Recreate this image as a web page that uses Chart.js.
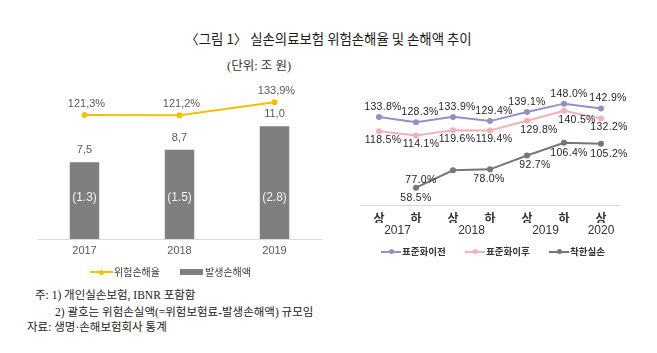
<!DOCTYPE html>
<html><head><meta charset="utf-8">
<script src="https://cdn.jsdelivr.net/npm/chart.js@4.4.0/dist/chart.umd.min.js"></script>
<style>
html,body{margin:0;padding:0;background:#fff;}
body{width:657px;height:353px;overflow:hidden;position:relative;font-family:'Noto Sans CJK KR',sans-serif;}
.abs{position:absolute;white-space:nowrap;line-height:16px;}
#title{left:0;width:657px;text-align:center;top:30px;font-size:13.4px;color:#1a1a1a;}
#unit{left:227px;top:58px;font-size:12.5px;color:#333;font-family:'Liberation Serif','Noto Sans CJK KR',serif;}
.note{font-size:11.5px;color:#222;font-family:'Liberation Serif','Noto Sans CJK KR',serif;}
#c1{position:absolute;left:0;top:80px;}
#c2{position:absolute;left:330px;top:70px;}
.leg{font-size:10px;color:#404040;}
.leg2{font-size:9.5px;color:#333;font-weight:bold;}
.lline{position:absolute;height:2px;}
.ldot{position:absolute;width:5px;height:5px;border-radius:50%;}
</style></head>
<body>
<div id="title" class="abs">〈그림 1〉 실손의료보험 위험손해율 및 손해액 추이</div>
<div id="unit" class="abs">(단위: 조 원)</div>
<canvas id="c1" width="330" height="182"></canvas>
<canvas id="c2" width="327" height="172"></canvas>

<!-- left legend -->
<div class="lline" style="left:90px;top:271px;width:23px;background:#F5C000"></div>
<div class="ldot" style="left:99px;top:269.5px;background:#F5C000"></div>
<div class="abs leg" style="left:114px;top:264px;">위험손해율</div>
<div style="position:absolute;left:180px;top:269px;width:23px;height:6px;background:#7F7F7F"></div>
<div class="abs leg" style="left:205px;top:264px;">발생손해액</div>

<!-- right legend -->
<div class="lline" style="left:381px;top:250.5px;width:20px;background:#8E92C8"></div>
<div class="ldot" style="left:388.5px;top:249px;background:#8E92C8"></div>
<div class="abs leg2" style="left:402px;top:243px;">표준화이전</div>
<div class="lline" style="left:465px;top:250.5px;width:20px;background:#F2B1B7"></div>
<div class="ldot" style="left:472.5px;top:249px;background:#F2B1B7"></div>
<div class="abs leg2" style="left:486px;top:243px;">표준화이후</div>
<div class="lline" style="left:549px;top:250.5px;width:20px;background:#767676"></div>
<div class="ldot" style="left:556.5px;top:249px;background:#767676"></div>
<div class="abs leg2" style="left:570px;top:243px;">착한실손</div>

<div class="abs note" style="left:35px;top:287px;">주: 1) 개인실손보험, IBNR 포함함</div>
<div class="abs note" style="left:55px;top:304px;">2) 괄호는 위험손실액(=위험보험료-발생손해액) 규모임</div>
<div class="abs note" style="left:27px;top:319px;">자료: 생명·손해보험회사 통계</div>

<script>
// ---- left chart data ----
const leftYears = ['2017', '2018', '2019'];
const riskLossRatio = [121.3, 121.2, 133.9];      // 위험손해율 (%)
const lossAmount = [7.5, 8.7, 11.0];               // 발생손해액 (조 원)
const riskLossAmount = [1.3, 1.5, 2.8];            // 위험손실액 (괄호)

// ---- right chart data ----
const halfLabels = ['상', '하', '상', '하', '상', '하', '상'];
const yearLabels = ['2017', '2018', '2019', '2020'];
const yearTickPos = [0.5, 2.5, 4.5, 6];
const beforeStd = [133.8, 128.3, 133.9, 129.4, 139.1, 148.0, 142.9];   // 표준화이전
const afterStd = [118.5, 114.1, 119.6, 119.4, 129.8, 140.5, 132.2];    // 표준화이후
const goodInsurance = [null, 58.5, 77.0, 78.0, 92.7, 106.4, 105.2];    // 착한실손

// label offsets (style only)
const beforeDx = [4, 4, 4, 4, 0, 5, 7];
const afterDx = [4, 5, 4, 4, 12, 13, 8];
const goodDx = [0, 0, -32, -1, 8, 5, 8];

const fmt = v => v.toFixed(1).replace('.', ',');

const leftLabels = {
  id: 'leftLabels',
  afterDatasetsDraw(chart) {
    const ctx = chart.ctx;
    const lineMeta = chart.getDatasetMeta(0), barMeta = chart.getDatasetMeta(1);
    ctx.save();
    ctx.textAlign = 'center'; ctx.textBaseline = 'middle';
    ctx.font = '11px "Liberation Sans"'; ctx.fillStyle = '#595959';
    lineMeta.data.forEach((p, i) => ctx.fillText(fmt(riskLossRatio[i]) + '%', p.x + 2, p.y - 11));
    barMeta.data.forEach((b, i) => ctx.fillText(fmt(lossAmount[i]), b.x, b.y - 12));
    ctx.font = '12px "Liberation Sans"'; ctx.fillStyle = '#F2F2F2';
    const yIn = chart.scales.yA.getPixelForValue(4);
    barMeta.data.forEach((b, i) => ctx.fillText('(' + riskLossAmount[i].toFixed(1) + ')', b.x, yIn));
    ctx.restore();
  }
};

new Chart(document.getElementById('c1'), {
  data: {
    labels: leftYears,
    datasets: [
      { type: 'line', label: '위험손해율', data: riskLossRatio, yAxisID: 'yR',
        borderColor: '#F5C000', backgroundColor: '#F5C000', borderWidth: 2,
        pointRadius: 3, pointBorderWidth: 0, pointBackgroundColor: '#F5C000', order: 0 },
      { type: 'bar', label: '발생손해액', data: lossAmount, yAxisID: 'yA',
        backgroundColor: '#7F7F7F', barPercentage: 0.31, categoryPercentage: 1, order: 1 }
    ]
  },
  options: {
    responsive: false, animation: false, devicePixelRatio: 1,
    layout: { padding: { left: 37, right: 8, top: 10, bottom: 0 } },
    plugins: { legend: { display: false }, tooltip: { enabled: false } },
    scales: {
      x: { offset: true,
        grid: { display: true, drawOnChartArea: false, drawTicks: false },
        border: { color: '#D9D9D9', width: 1 },
        ticks: { color: '#595959', font: { family: 'Liberation Sans', size: 11 }, padding: 5 },
        afterFit: s => { s.height = 23; } },
      yA: { display: false, min: 0, max: 14.54 },
      yR: { display: false, min: 0, max: 145.8 }
    }
  },
  plugins: [leftLabels]
});

const rightLabels = {
  id: 'rightLabels',
  afterDatasetsDraw(chart) {
    const ctx = chart.ctx;
    ctx.save();
    ctx.textAlign = 'center'; ctx.textBaseline = 'middle';
    ctx.font = '10.5px "Liberation Sans"'; ctx.fillStyle = '#262626';
    try { ctx.letterSpacing = '0.3px'; } catch (e) {}
    const sets = [[beforeStd, beforeDx, -10], [afterStd, afterDx, 9], [goodInsurance, goodDx, 10]];
    sets.forEach(([vals, dx, dy], di) => {
      chart.getDatasetMeta(di).data.forEach((p, i) => {
        if (vals[i] === null) return;
        ctx.fillText(vals[i].toFixed(1) + '%', p.x + dx[i], p.y + dy);
      });
    });
    ctx.restore();
  }
};

const lineDs = (label, data, color) => ({
  label, data, borderColor: color, backgroundColor: color, borderWidth: 2,
  pointRadius: 3, pointBorderWidth: 0, pointBackgroundColor: color, spanGaps: false
});

new Chart(document.getElementById('c2'), {
  type: 'line',
  data: {
    labels: halfLabels,
    datasets: [
      lineDs('표준화이전', beforeStd, '#8E92C8'),
      lineDs('표준화이후', afterStd, '#F2B1B7'),
      lineDs('착한실손', goodInsurance, '#767676')
    ]
  },
  options: {
    responsive: false, animation: false, devicePixelRatio: 1,
    layout: { padding: { left: 30.5, right: 37.5, top: 13, bottom: 0 } },
    plugins: { legend: { display: false }, tooltip: { enabled: false } },
    scales: {
      x: { offset: true, weight: 0,
        grid: { display: true, drawOnChartArea: false, drawTicks: false },
        border: { color: '#D9D9D9', width: 1 },
        ticks: { color: '#333', font: { family: 'Noto Sans CJK KR', size: 12, weight: 'bold' }, padding: 6 },
        afterFit: s => { s.height = 18; } },
      x2: { type: 'linear', position: 'bottom', weight: 1, min: -0.5, max: 6.5,
        grid: { display: false, drawTicks: false }, border: { display: false },
        afterBuildTicks: s => { s.ticks = yearTickPos.map(v => ({ value: v })); },
        ticks: { color: '#333', autoSkip: false, maxRotation: 0, padding: 0,
          font: { family: 'Liberation Sans', size: 12 },
          callback: (v, i) => yearLabels[i] },
        afterFit: s => { s.height = 19; } },
      y: { display: false, min: 40, max: 170 }
    }
  },
  plugins: [rightLabels]
});
</script>
</body></html>
